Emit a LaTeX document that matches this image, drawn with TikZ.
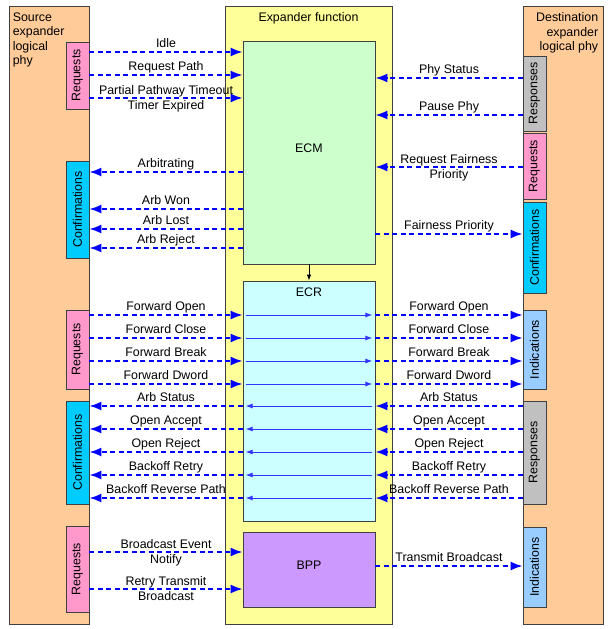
\documentclass[tikz,border=0pt]{standalone}
\usepackage{fontspec}
\setmainfont{Liberation Sans}
\usetikzlibrary{arrows.meta, positioning, fit}

\definecolor{phyorange}{RGB}{255,204,153}
\definecolor{expyellow}{RGB}{255,255,153}
\definecolor{ecmgreen}{RGB}{204,255,204}
\definecolor{ecrcyan}{RGB}{204,255,255}
\definecolor{bpppurple}{RGB}{204,153,255}
\definecolor{reqpink}{RGB}{255,153,204}
\definecolor{cfmcyan}{RGB}{0,204,255}
\definecolor{indblue}{RGB}{153,204,255}
\definecolor{rspgray}{RGB}{192,192,192}
\definecolor{sigblue}{RGB}{0,0,255}

\begin{document}
\begin{tikzpicture}[x=1pt, y=-1pt,
    every node/.style={font=\fontsize{12.4}{14.5}\selectfont},
    panel/.style={draw=black!75, line width=0.8pt, inner sep=0pt},
    sidebox/.style={draw=black!75, line width=0.8pt, rotate=90, inner sep=0pt, minimum height=23pt},
    sig/.style={sigblue, line width=1.8pt, dash pattern=on 5pt off 3.5pt, -{Latex[length=12pt, width=9pt]}},
    thru/.style={sigblue!80, line width=0.9pt, -{Latex[length=7pt, width=5pt]}, shorten <=3pt, shorten >=3pt},
    lbl/.style={anchor=base, yshift=5pt, inner sep=0pt, text=black},
    lbltwo/.style={anchor=north, align=center, yshift=13pt, inner sep=0pt, text=black}]
  \useasboundingbox (0,0) rectangle (609,629);

  % the three columns
  \node (src) [panel, fill=phyorange, fit={(9,6) (89,624)}] {};
  \node (dst) [panel, fill=phyorange, fit={(523,6) (603,624)}] {};
  \node (expfn) [panel, fill=expyellow, fit={(225,6) (392,624)}] {};
  \node (srcname) [below right=7pt and 4pt of src.north west, align=left, inner sep=0pt] {Source\\expander\\logical\\phy};
  \node (dstname) [below left=7pt and 5pt of dst.north east, align=right, inner sep=0pt] {Destination\\expander\\logical phy};
  \node (expname) [below=7pt of expfn.north, inner sep=0pt] {Expander function};

  % blocks of the expander function
  \node (ecm) [panel, fill=ecmgreen, fit={(243,41) (375,264)}] {ECM};
  \node (ecr) [panel, fill=ecrcyan, fit={(243,281) (375,521)}] {};
  \node (ecrname) [below=7pt of ecr.north, inner sep=0pt] {ECR};
  \node (bpp) [panel, fill=bpppurple, fit={(243,532) (375,607)}] {BPP};
  \draw[line width=0.8pt, -{Latex[length=6pt, width=4.5pt]}] (ecm.south) -- (ecr.north);

  % source side boxes
  \node (reqa) [sidebox, fill=reqpink, minimum width=67pt] at (77.5,75.5) {Requests};
  \node (cfma) [sidebox, fill=cfmcyan, minimum width=97pt] at (77.5,209.5) {Confirmations};
  \node (reqb) [sidebox, fill=reqpink, minimum width=79pt] at (77.5,349.5) {Requests};
  \node (cfmb) [sidebox, fill=cfmcyan, minimum width=103pt] at (77.5,452.5) {Confirmations};
  \node (reqc) [sidebox, fill=reqpink, minimum width=86pt] at (77.5,569) {Requests};

  % destination side boxes
  \node (rspa) [sidebox, fill=rspgray, minimum width=75pt] at (534.5,93.5) {Responses};
  \node (reqd) [sidebox, fill=reqpink, minimum width=66pt] at (534.5,166) {Requests};
  \node (cfmc) [sidebox, fill=cfmcyan, minimum width=91pt] at (534.5,247.5) {Confirmations};
  \node (inda) [sidebox, fill=indblue, minimum width=79pt] at (534.5,349.5) {Indications};
  \node (rspb) [sidebox, fill=rspgray, minimum width=103pt] at (534.5,452.5) {Responses};
  \node (indb) [sidebox, fill=indblue, minimum width=80pt] at (534.5,567) {Indications};

  % ECM signals
  \foreach \y/\txt in {52/Idle, 75/Request Path}
    \draw[sig] (src.east |- 0,\y) -- node[lbl] {\txt} (ecm.west |- 0,\y);
  \draw[sig] (src.east |- 0,98) -- node[lbltwo] {Partial Pathway Timeout\\Timer Expired} (ecm.west |- 0,98);
  \foreach \y/\txt in {172/Arbitrating, 209/Arb Won, 229/Arb Lost, 248/Arb Reject}
    \draw[sig] (ecm.west |- 0,\y) -- node[lbl] {\txt} (src.east |- 0,\y);
  \foreach \y/\txt in {78/Phy Status, 115/Pause Phy}
    \draw[sig] (dst.west |- 0,\y) -- node[lbl] {\txt} (ecm.east |- 0,\y);
  \draw[sig] (dst.west |- 0,167) -- node[lbltwo] {Request Fairness\\Priority} (ecm.east |- 0,167);
  \draw[sig] (ecm.east |- 0,234) -- node[lbl] {Fairness Priority} (dst.west |- 0,234);

  % ECR signals
  \foreach \y/\txt in {315/Forward Open, 338/Forward Close, 361/Forward Break, 384/Forward Dword} {
    \draw[sig] (src.east |- 0,\y) -- node[lbl] {\txt} (ecr.west |- 0,\y);
    \draw[thru] (ecr.west |- 0,\y) -- (ecr.east |- 0,\y);
    \draw[sig] (ecr.east |- 0,\y) -- node[lbl] {\txt} (dst.west |- 0,\y);
  }
  \foreach \y/\txt in {406/Arb Status, 429/Open Accept, 452/Open Reject, 475/Backoff Retry, 498/Backoff Reverse Path} {
    \draw[sig] (dst.west |- 0,\y) -- node[lbl] {\txt} (ecr.east |- 0,\y);
    \draw[thru] (ecr.east |- 0,\y) -- (ecr.west |- 0,\y);
    \draw[sig] (ecr.west |- 0,\y) -- node[lbl] {\txt} (src.east |- 0,\y);
  }

  % BPP signals
  \draw[sig] (src.east |- 0,552) -- node[lbltwo] {Broadcast Event\\Notify} (bpp.west |- 0,552);
  \draw[sig] (src.east |- 0,589) -- node[lbltwo] {Retry Transmit\\Broadcast} (bpp.west |- 0,589);
  \draw[sig] (bpp.east |- 0,566) -- node[lbl] {Transmit Broadcast} (dst.west |- 0,566);
\end{tikzpicture}
\end{document}
